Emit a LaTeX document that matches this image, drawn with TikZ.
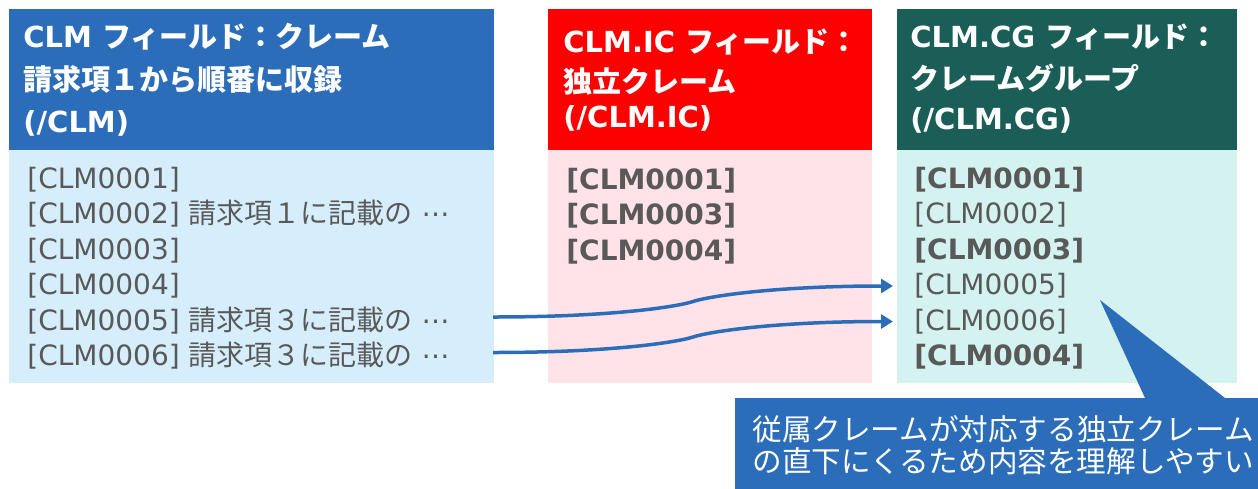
\documentclass[tikz,border=0pt]{standalone}
\usepackage{fontspec}
\setmainfont{DejaVu Sans}
\newfontfamily\jp{Noto Sans CJK JP}
\usetikzlibrary{calc,arrows.meta}
\definecolor{clmblue}{RGB}{44,109,186}
\definecolor{icred}{RGB}{255,0,0}
\definecolor{cgteal}{RGB}{27,94,87}
\definecolor{clmbg}{RGB}{214,238,251}
\definecolor{icbg}{RGB}{255,227,233}
\definecolor{cgbg}{RGB}{211,242,240}
\definecolor{txtgray}{RGB}{89,89,89}

\begin{document}
\begin{tikzpicture}[x=0.5pt,y=-0.5pt,
  box/.style={inner sep=0,outer sep=0,anchor=north west},
  head/.style={inner sep=0,anchor=base west,text=white,font=\fontsize{14.5}{17}\selectfont\bfseries},
  row/.style={inner sep=0,anchor=base west,text=txtgray,font=\fontsize{14}{17}\selectfont},
  boldrow/.style={row,font=\fontsize{14}{17}\selectfont\bfseries},
  link/.style={draw=clmblue,line width=1.75pt,-{Triangle[length=6pt,width=7pt]}},
  note/.style={inner sep=0,anchor=base west,text=white,font=\jp\fontsize{14.8}{17}\selectfont}]
\useasboundingbox (0,0) rectangle (1258,488);
\clip (0,0) rectangle (1258,488);

% column boxes
\node[box,fill=clmblue,minimum width=242.5pt,minimum height=70.5pt] (h1) at (9,9) {};
\node[box,fill=clmbg,minimum width=242.5pt,minimum height=116.5pt] (b1) at (h1.south west) {};
\node[box,fill=icred,minimum width=162pt,minimum height=70.5pt] (h2) at (548,9) {};
\node[box,fill=icbg,minimum width=162pt,minimum height=116.5pt] (b2) at (h2.south west) {};
\node[box,fill=cgteal,minimum width=170pt,minimum height=70.5pt] (h3) at (897,9) {};
\node[box,fill=cgbg,minimum width=170pt,minimum height=116.5pt] (b3) at (h3.south west) {};

% headers
\node[head] (t11) at (23,47) {CLM {\jp フィールド：クレーム}};
\node[head] (t12) at (23,90) {\jp 請求項１から順番に収録};
\node[head] (t13) at (23,132) {(/CLM)};
\node[head] (t21) at (563,52) {CLM.IC {\jp フィールド：}};
\node[head] (t22) at (563,92) {\jp 独立クレーム};
\node[head] (t23) at (563,127) {(/CLM.IC)};
\node[head] (t31) at (910,47) {CLM.CG {\jp フィールド：}};
\node[head] (t32) at (910,89) {\jp クレームグループ};
\node[head] (t33) at (910,129) {(/CLM.CG)};

% CLM rows
\node[row] (l1) at (27,188) {[CLM0001]};
\node[row] (l2) at (27,223.5) {[CLM0002] {\jp 請求項１に記載の} ⋯};
\node[row] (l3) at (27,259) {[CLM0003]};
\node[row] (l4) at (27,294.5) {[CLM0004]};
\node[row] (l5) at (27,330) {[CLM0005] {\jp 請求項３に記載の} ⋯};
\node[row] (l6) at (27,365.5) {[CLM0006] {\jp 請求項３に記載の} ⋯};

% CLM.IC rows
\node[boldrow] (m1) at (566,189) {[CLM0001]};
\node[boldrow] (m2) at (566,224.5) {[CLM0003]};
\node[boldrow] (m3) at (566,260) {[CLM0004]};

% CLM.CG rows
\node[boldrow] (r1) at (914,188) {[CLM0001]};
\node[row] (r2) at (914,223.5) {[CLM0002]};
\node[boldrow] (r3) at (914,259) {[CLM0003]};
\node[row] (r4) at (914,294.5) {[CLM0005]};
\node[row] (r5) at (914,330) {[CLM0006]};
\node[boldrow] (r6) at (914,365.5) {[CLM0004]};

% moves
\coordinate (s5) at ($(l5.base -| b1.east)+(-1,-13)$);
\coordinate (s6) at ($(l6.base -| b1.east)+(-1,-13)$);
\coordinate (e4) at ($(r4.base west)+(-21,-8.5)$);
\coordinate (e5) at ($(r5.base west)+(-21,-8.5)$);
\draw[link] (s5) .. controls +(120,0) and +(-15,5) .. ($(s5)!0.5!(e4)$) .. controls +(15,-5) and +(-120,0) .. (e4);
\draw[link] (s6) .. controls +(120,0) and +(-15,5) .. ($(s6)!0.5!(e5)$) .. controls +(15,-5) and +(-120,0) .. (e5);

% callout
\fill[clmblue] (1100,300) -- (1145,398) -- (1225,398) -- cycle;
\fill[clmblue] (735,398) rectangle (1270,500);
\node[note] (n1) at (752,440) {従属クレームが対応する独立クレーム};
\node[note] (n2) at (752,472) {の直下にくるため内容を理解しやすい};
\end{tikzpicture}
\end{document}
